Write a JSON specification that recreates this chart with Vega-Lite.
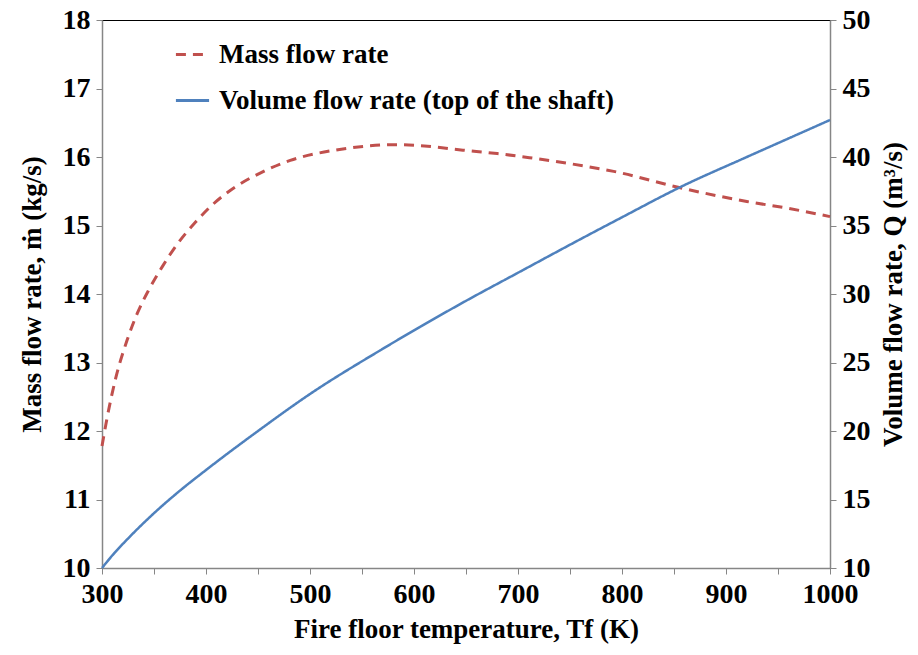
{
  "$schema": "https://vega.github.io/schema/vega-lite/v6.json",
  "width": 728,
  "height": 548,
  "autosize": "none",
  "padding": {"left": 102, "top": 20, "right": 88, "bottom": 87},
  "background": "white",
  "config": {
    "font": "Liberation Serif",
    "view": {"stroke": "black", "strokeWidth": 1},
    "axis": {
      "labelFont": "Liberation Serif",
      "labelFontWeight": "bold",
      "labelFontSize": 28,
      "labelColor": "black",
      "titleFont": "Liberation Serif",
      "titleFontWeight": "bold",
      "titleFontSize": 27,
      "titleColor": "black",
      "domainColor": "#868686",
      "domainWidth": 1.5,
      "tickColor": "#868686",
      "tickWidth": 1,
      "tickSize": 6,
      "grid": false
    },
    "legend": {
      "labelFont": "Liberation Serif",
      "labelFontWeight": "bold",
      "labelFontSize": 27,
      "labelColor": "black",
      "labelLimit": 600
    }
  },
  "datasets": {
    "mass": [
      {"T": 300, "value": 11.78, "series": "Mass flow rate"},
      {"T": 305, "value": 12.2, "series": "Mass flow rate"},
      {"T": 313, "value": 12.76, "series": "Mass flow rate"},
      {"T": 324, "value": 13.32, "series": "Mass flow rate"},
      {"T": 334, "value": 13.72, "series": "Mass flow rate"},
      {"T": 345, "value": 14.06, "series": "Mass flow rate"},
      {"T": 358, "value": 14.4, "series": "Mass flow rate"},
      {"T": 372, "value": 14.72, "series": "Mass flow rate"},
      {"T": 390, "value": 15.05, "series": "Mass flow rate"},
      {"T": 406, "value": 15.3, "series": "Mass flow rate"},
      {"T": 428, "value": 15.56, "series": "Mass flow rate"},
      {"T": 454, "value": 15.78, "series": "Mass flow rate"},
      {"T": 481, "value": 15.95, "series": "Mass flow rate"},
      {"T": 524, "value": 16.1, "series": "Mass flow rate"},
      {"T": 555, "value": 16.16, "series": "Mass flow rate"},
      {"T": 580, "value": 16.18, "series": "Mass flow rate"},
      {"T": 610, "value": 16.16, "series": "Mass flow rate"},
      {"T": 647, "value": 16.1, "series": "Mass flow rate"},
      {"T": 680, "value": 16.05, "series": "Mass flow rate"},
      {"T": 711, "value": 15.99, "series": "Mass flow rate"},
      {"T": 763, "value": 15.87, "series": "Mass flow rate"},
      {"T": 792, "value": 15.79, "series": "Mass flow rate"},
      {"T": 856, "value": 15.55, "series": "Mass flow rate"},
      {"T": 920, "value": 15.35, "series": "Mass flow rate"},
      {"T": 960, "value": 15.25, "series": "Mass flow rate"},
      {"T": 1000, "value": 15.13, "series": "Mass flow rate"}
    ],
    "volume": [
      {"T": 300, "value": 10.0, "series": "Volume flow rate (top of the shaft)"},
      {"T": 312, "value": 11.1, "series": "Volume flow rate (top of the shaft)"},
      {"T": 325, "value": 12.15, "series": "Volume flow rate (top of the shaft)"},
      {"T": 350, "value": 14.0, "series": "Volume flow rate (top of the shaft)"},
      {"T": 375, "value": 15.65, "series": "Volume flow rate (top of the shaft)"},
      {"T": 400, "value": 17.15, "series": "Volume flow rate (top of the shaft)"},
      {"T": 450, "value": 20.0, "series": "Volume flow rate (top of the shaft)"},
      {"T": 500, "value": 22.7, "series": "Volume flow rate (top of the shaft)"},
      {"T": 570, "value": 26.0, "series": "Volume flow rate (top of the shaft)"},
      {"T": 650, "value": 29.5, "series": "Volume flow rate (top of the shaft)"},
      {"T": 700, "value": 31.55, "series": "Volume flow rate (top of the shaft)"},
      {"T": 760, "value": 34.0, "series": "Volume flow rate (top of the shaft)"},
      {"T": 800, "value": 35.6, "series": "Volume flow rate (top of the shaft)"},
      {"T": 856, "value": 37.8, "series": "Volume flow rate (top of the shaft)"},
      {"T": 920, "value": 40.0, "series": "Volume flow rate (top of the shaft)"},
      {"T": 960, "value": 41.35, "series": "Volume flow rate (top of the shaft)"},
      {"T": 1000, "value": 42.7, "series": "Volume flow rate (top of the shaft)"}
    ]
  },
  "encoding": {
    "x": {
      "field": "T",
      "type": "quantitative",
      "scale": {"domain": [300, 1000], "nice": false},
      "axis": {
        "values": [300, 350, 400, 450, 500, 550, 600, 650, 700, 750, 800, 850, 900, 950, 1000],
        "format": "d",
        "labelExpr": "datum.value % 100 === 0 ? datum.label : ''",
        "labelPadding": 6,
        "labelFlush": false,
        "labelOverlap": false,
        "title": "Fire floor temperature, Tf (K)",
        "titlePadding": 8
      }
    },
    "color": {
      "field": "series",
      "type": "nominal",
      "scale": {
        "domain": ["Mass flow rate", "Volume flow rate (top of the shaft)"],
        "range": ["#C0504D", "#4F81BD"]
      },
      "legend": {
        "title": null,
        "orient": "none",
        "legendX": 72,
        "legendY": 16,
        "symbolType": "stroke",
        "symbolSize": 1100,
        "symbolStrokeWidth": 3,
        "labelOffset": 8,
        "rowPadding": 14
      }
    },
    "strokeDash": {
      "field": "series",
      "type": "nominal",
      "scale": {
        "domain": ["Mass flow rate", "Volume flow rate (top of the shaft)"],
        "range": [[10, 7], [1, 0]]
      },
      "legend": {
        "title": null,
        "orient": "none",
        "legendX": 72,
        "legendY": 16,
        "symbolType": "stroke",
        "symbolSize": 1100,
        "symbolStrokeWidth": 3,
        "labelOffset": 8,
        "rowPadding": 14
      }
    }
  },
  "layer": [
    {
      "data": {"name": "mass"},
      "mark": {"type": "line", "strokeWidth": 3, "interpolate": "monotone"},
      "encoding": {
        "y": {
          "field": "value",
          "type": "quantitative",
          "scale": {"domain": [10, 18], "nice": false, "zero": false},
          "axis": {
            "orient": "left",
            "values": [10, 11, 12, 13, 14, 15, 16, 17, 18],
            "labelPadding": 6,
            "labelFlush": false,
            "title": "Mass flow rate,  ṁ (kg/s)",
            "titlePadding": 16
          }
        }
      }
    },
    {
      "data": {"name": "volume"},
      "mark": {"type": "line", "strokeWidth": 2.5, "interpolate": "monotone"},
      "encoding": {
        "y": {
          "field": "value",
          "type": "quantitative",
          "scale": {"domain": [10, 50], "nice": false, "zero": false},
          "axis": {
            "orient": "right",
            "values": [10, 15, 20, 25, 30, 35, 40, 45, 50],
            "labelPadding": 6,
            "labelFlush": false,
            "title": "Volume flow rate, Q (m³/s)",
            "titleAngle": -90,
            "titleBaseline": "top",
            "titlePadding": 10
          }
        }
      }
    }
  ],
  "resolve": {"scale": {"y": "independent"}}
}
